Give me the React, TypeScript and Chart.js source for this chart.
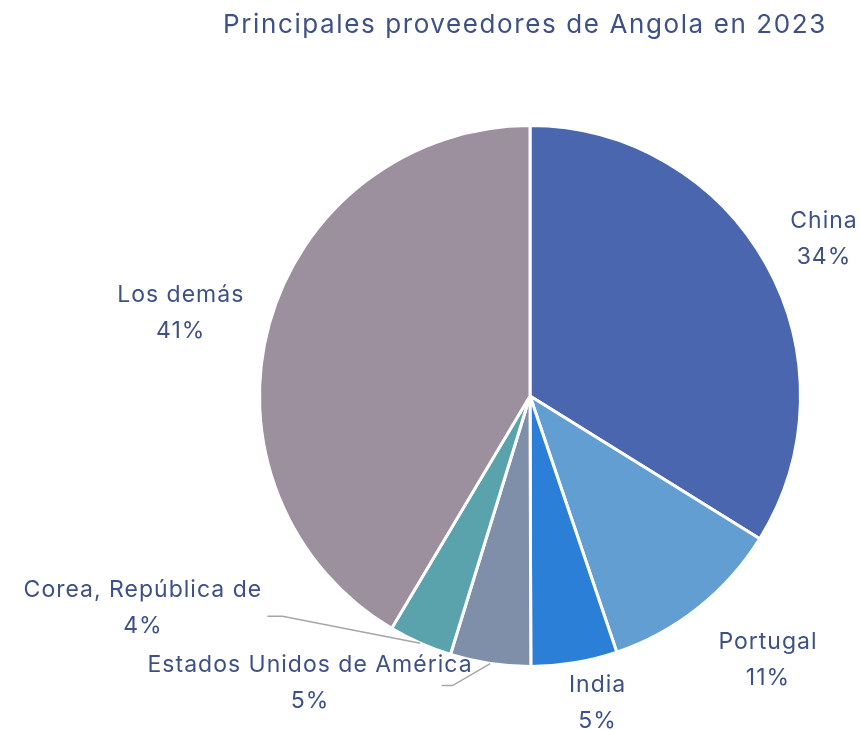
import React, { useEffect, useRef } from "react";
import { Chart, registerables } from "chart.js";

Chart.register(...registerables);

const titleText = "Principales proveedores de Angola en 2023";
const categories = [
  "China",
  "Portugal",
  "India",
  "Estados Unidos de América",
  "Corea, República de",
  "Los demás",
];
const shares = [33.85, 10.95, 5.15, 4.8, 3.8, 41.45];
const sliceColors = ["#4a66ae", "#629ed1", "#2b7fd7", "#7f8fa9", "#5aa3ac", "#9c8f9e"];

// label centres as offsets from the pie centre, in units of the radius
const labelOffsets = [
  [1.085, -0.58],
  [0.878, 0.975],
  [0.248, 1.135],
  [-0.815, 1.063],
  [-1.433, 0.785],
  [-1.293, -0.308],
];
// leader lines: [elbowDx, endDx, dy] relative to label centre (px), null = no line
const leaders: (number[] | null)[] = [null, null, null, [143, 132, 2], [140, 125, 8], null];

const TEXT_COLOR = "#3d5186";
const FONT = "Inter, 'Open Sans', sans-serif";

const labelPlugin = {
  id: "customLabels",
  afterDraw(chart: any) {
    const ctx = chart.ctx;
    const meta = chart.getDatasetMeta(0);
    ctx.save();
    // title
    ctx.fillStyle = TEXT_COLOR;
    ctx.font = `400 26px ${FONT}`;
    (ctx as any).letterSpacing = "1.6px";
    ctx.textAlign = "center";
    ctx.textBaseline = "middle";
    ctx.fillText(titleText, 525, 25);

    const total = shares.reduce((a, b) => a + b, 0);
    meta.data.forEach((arc: any, i: number) => {
      const { x, y, outerRadius, startAngle, endAngle } = arc.getProps(
        ["x", "y", "outerRadius", "startAngle", "endAngle"],
        true
      );
      const R = outerRadius;
      const lx = x + labelOffsets[i][0] * R;
      const ly = y + labelOffsets[i][1] * R;
      const ld = leaders[i];
      if (ld) {
        const mid = (startAngle + endAngle) / 2;
        ctx.strokeStyle = "#a6a6a6";
        ctx.lineWidth = 1.5;
        ctx.beginPath();
        ctx.moveTo(x + Math.cos(mid) * R, y + Math.sin(mid) * R);
        ctx.lineTo(lx + ld[0], ly + ld[2]);
        ctx.lineTo(lx + ld[1], ly + ld[2]);
        ctx.stroke();
      }
      ctx.fillStyle = TEXT_COLOR;
      ctx.font = `400 23px ${FONT}`;
      (ctx as any).letterSpacing = "1px";
      ctx.textAlign = "center";
      ctx.textBaseline = "middle";
      const pct = Math.round((shares[i] / total) * 100) + "%";
      ctx.fillText(categories[i], lx + 0.5, ly - 18);
      ctx.fillText(pct, lx + 0.5, ly + 18);
    });
    ctx.restore();
  },
};

export default function App() {
  const ref = useRef<HTMLCanvasElement>(null);
  useEffect(() => {
    document.body.style.margin = "0";
    const chart = new Chart(ref.current!, {
      type: "pie",
      data: {
        labels: categories,
        datasets: [
          {
            data: shares,
            backgroundColor: sliceColors,
            borderColor: "#ffffff",
            borderWidth: 3,
          },
        ],
      },
      options: {
        animation: false,
        responsive: false,
        layout: { padding: { left: 258, right: 59, top: 124, bottom: 62 } },
        plugins: {
          legend: { display: false },
          title: { display: false },
          tooltip: { enabled: false },
        },
      },
      plugins: [labelPlugin],
    });
    return () => chart.destroy();
  }, []);
  return (
    <div style={{ width: 861, height: 730, background: "#fff" }}>
      <canvas ref={ref} width={861} height={730} />
    </div>
  );
}
